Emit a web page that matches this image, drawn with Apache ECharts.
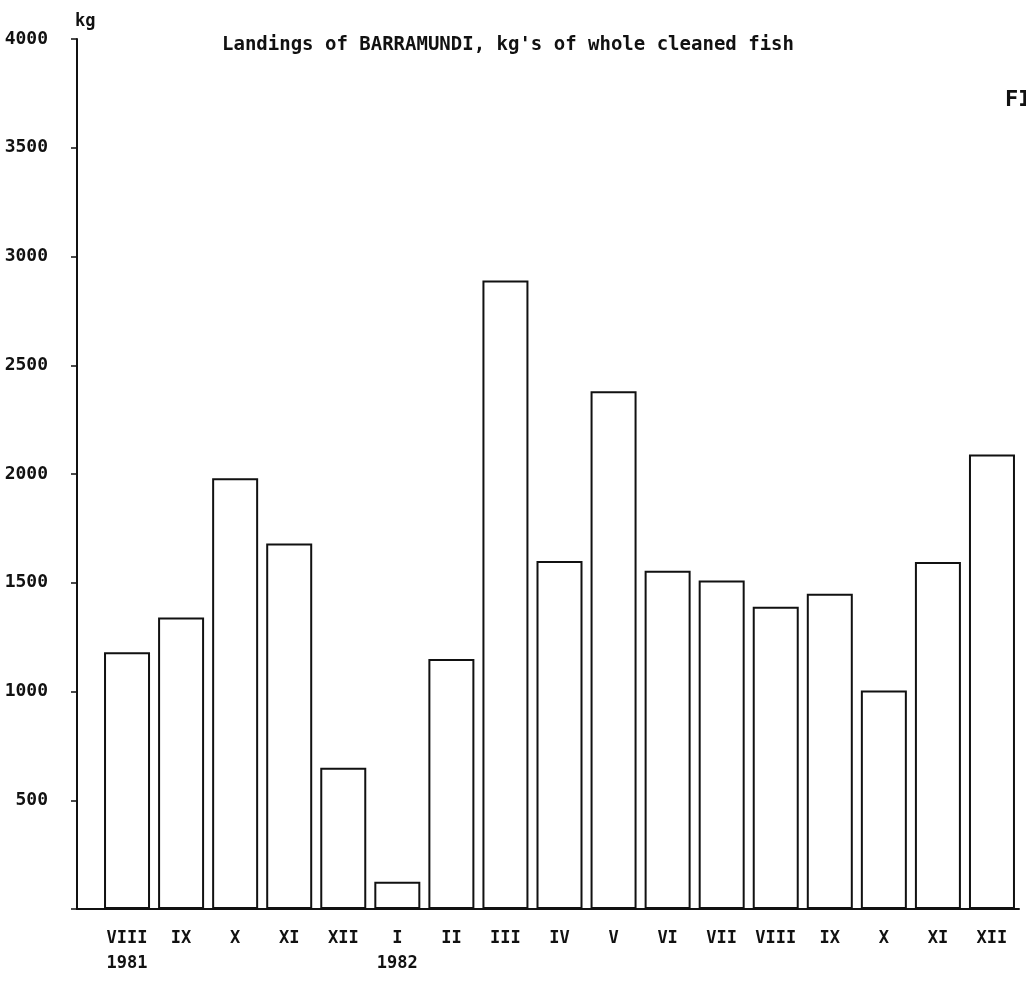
<!DOCTYPE html>
<html>
<head>
<meta charset="utf-8">
<script src="https://cdn.jsdelivr.net/npm/echarts@6/dist/echarts.min.js"></script>
<style>
html,body{margin:0;padding:0;background:#fff;}
#chart{width:1026px;height:987px;}
</style>
</head>
<body>
<div id="chart"></div>
<script>
var months = ['VIII','IX','X','XI','XII','I','II','III','IV','V','VI','VII','VIII','IX','X','XI','XII'];
var years  = ['1981','','','','','1982','','','','','','','','','','',''];
var landings = [1180, 1340, 1980, 1680, 650, 125, 1150, 2890, 1600, 2380, 1555, 1510, 1390, 1450, 1005, 1595, 2090];
var yTicks = [0, 500, 1000, 1500, 2000, 2500, 3000, 3500, 4000];

var categories = months.map(function (m, i) { return years[i] ? m + '\n' + years[i] : m; });
var font = 'DejaVu Sans Mono';

var chart = echarts.init(document.getElementById('chart'), null, {renderer: 'canvas'});
chart.setOption({
  animation: false,
  backgroundColor: '#fff',
  title: [
    {
      text: "Landings of BARRAMUNDI, kg's of whole cleaned fish",
      left: 217, top: 31,
      textStyle: {fontFamily: font, fontSize: 19, fontWeight: 'bold', color: '#111'}
    },
    {
      text: 'FI',
      left: 1000, top: 84,
      textStyle: {fontFamily: font, fontSize: 22, fontWeight: 'bold', color: '#111'}
    }
  ],
  grid: [
    {left: 77, right: 7, top: 39, bottom: 78},
    {left: 100, right: 7, top: 39, bottom: 78}
  ],
  xAxis: [
    {
      type: 'value', gridIndex: 0, min: 0, max: 1,
      axisLine: {show: true, lineStyle: {color: '#111', width: 2}},
      axisTick: {show: false}, axisLabel: {show: false}, splitLine: {show: false}
    },
    {
      type: 'category', gridIndex: 1, data: categories,
      axisLine: {show: false}, axisTick: {show: false}, splitLine: {show: false},
      axisLabel: {
        interval: 0, margin: 17, lineHeight: 25,
        fontFamily: font, fontSize: 17, fontWeight: 'bold', color: '#111'
      }
    }
  ],
  yAxis: [
    {
      type: 'value', gridIndex: 0, min: 0, max: 4000, interval: 500,
      name: 'kg', nameLocation: 'end', nameGap: 17,
      nameTextStyle: {fontFamily: font, fontSize: 17, fontWeight: 'bold', color: '#111', align: 'left', verticalAlign: 'middle', padding: [0, 0, 0, -2]},
      axisLine: {show: true, lineStyle: {color: '#111', width: 2}},
      axisTick: {show: true, inside: false, length: 6, lineStyle: {color: '#111', width: 1.5}},
      splitLine: {show: false},
      axisLabel: {
        margin: 29, fontFamily: font, fontSize: 18, fontWeight: 'bold', color: '#111',
        customValues: yTicks,
        formatter: function (v) { return v === 0 ? '' : String(v); }
      }
    },
    {
      type: 'value', gridIndex: 1, min: 0, max: 4000, interval: 500, show: false,
      splitLine: {show: false}
    }
  ],
  series: [
    {
      type: 'bar', xAxisIndex: 1, yAxisIndex: 1,
      data: landings, barWidth: 46,
      itemStyle: {color: '#fff', borderColor: '#111', borderWidth: 2}
    }
  ]
});
</script>
</body>
</html>
